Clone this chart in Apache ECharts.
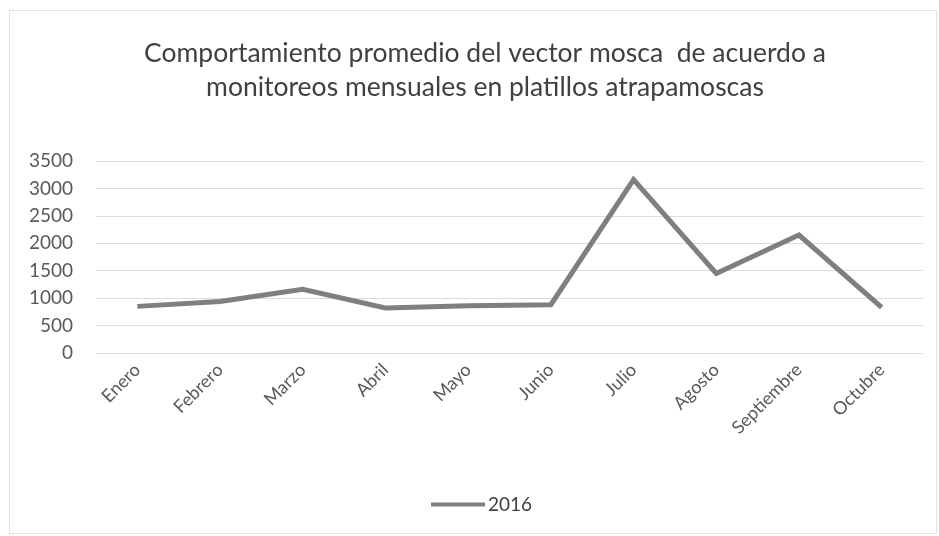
<!DOCTYPE html>
<html>
<head>
<meta charset="utf-8">
<script src="https://cdn.jsdelivr.net/npm/echarts@6/dist/echarts.min.js"></script>
<style>
  html, body { margin: 0; padding: 0; background: #fff; }
  #frame { position: absolute; left: 9px; top: 10px; width: 928px; height: 524px; border: 1px solid #e2e2e2; box-sizing: border-box; }
  #chart { position: absolute; left: 0; top: 0; width: 939px; height: 536px; }
</style>
</head>
<body>
<div id="frame"></div>
<div id="chart"></div>
<script>
// Monthly average fly counts from trap plates, 2016
const months = ['Enero', 'Febrero', 'Marzo', 'Abril', 'Mayo', 'Junio', 'Julio', 'Agosto', 'Septiembre', 'Octubre'];
const values2016 = [850, 940, 1160, 820, 860, 880, 3160, 1450, 2150, 830];
const yTicks = [0, 500, 1000, 1500, 2000, 2500, 3000, 3500];

const FONT = 'Lato, "Open Sans", sans-serif';
const chart = echarts.init(document.getElementById('chart'), null, { renderer: 'canvas' });

chart.setOption({
  backgroundColor: 'transparent',
  animation: false,
  title: {
    text: 'Comportamiento promedio del vector mosca  de acuerdo a\nmonitoreos mensuales en platillos atrapamoscas',
    left: 480,
    textAlign: 'center',
    top: 31,
    textStyle: { fontFamily: FONT, fontSize: 26.5, fontWeight: 'normal', color: '#404040', lineHeight: 34 }
  },
  legend: {
    bottom: 17,
    left: 426,
    itemWidth: 54,
    itemHeight: 4,
    itemGap: 4,
    data: [{ name: '2016', icon: 'rect' }],
    textStyle: { fontFamily: FONT, fontSize: 19, color: '#404040', padding: [0, 0, 0, -2] }
  },
  grid: { left: 96, right: 16, top: 161, bottom: 183, containLabel: false },
  xAxis: {
    type: 'category',
    data: months,
    boundaryGap: true,
    axisLine: { show: false },
    axisTick: { show: false },
    axisLabel: { rotate: 45, margin: 14, fontFamily: FONT, fontSize: 18, color: '#595959' }
  },
  yAxis: {
    type: 'value',
    min: yTicks[0],
    max: yTicks[yTicks.length - 1],
    interval: 500,
    axisLine: { show: false },
    axisTick: { show: false },
    axisLabel: { margin: 23, fontFamily: FONT, fontSize: 19, color: '#595959', formatter: v => String(v) },
    splitLine: { lineStyle: { color: '#dcdcdc', width: 1 } }
  },
  series: [{
    name: '2016',
    type: 'line',
    data: values2016,
    symbol: 'none',
    lineStyle: { color: '#7f7f7f', width: 5, join: 'miter' },
    itemStyle: { color: '#7f7f7f' }
  }]
});
</script>
</body>
</html>
